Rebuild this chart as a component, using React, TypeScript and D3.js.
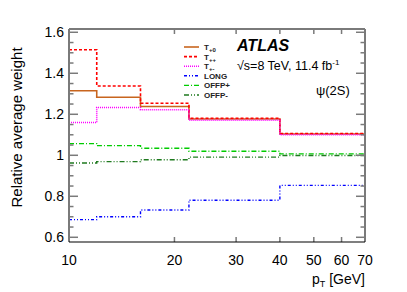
import React from "react";
import * as d3 from "d3";

// bin edges in pT [GeV]
const binEdges = [10, 12, 16, 22, 40, 70];

// relative average weight per bin
const tPlus0 = [1.315, 1.283, 1.238, 1.177, 1.104];
const tPlusPlus = [1.515, 1.338, 1.254, 1.181, 1.106];
const tPlusMinus = [1.16, 1.233, 1.222, 1.171, 1.1];
const longW = [0.686, 0.7, 0.733, 0.781, 0.853];
const offpPlus = [1.057, 1.047, 1.034, 1.02, 1.007];
const offpMinus = [0.962, 0.969, 0.978, 0.991, 0.999];

const xTicks = [10, 20, 30, 40, 50, 60, 70];
const yTicks = [0.6, 0.8, 1, 1.2, 1.4, 1.6];

const series = [
  { name: "T", sub: "+0", values: tPlus0, color: "#c8651e", dash: "", width: 1.6 },
  { name: "T", sub: "++", values: tPlusPlus, color: "#ff0000", dash: "3,2", width: 1.6 },
  { name: "T", sub: "+-", values: tPlusMinus, color: "#ff00ff", dash: "1,1", width: 1.6 },
  { name: "LONG", sub: "", values: longW, color: "#0000ff", dash: "3,2,1,2,1,2", width: 1.4 },
  { name: "OFFP+", sub: "", values: offpPlus, color: "#00cc00", dash: "5,2,1,2", width: 1.4 },
  { name: "OFFP-", sub: "", values: offpMinus, color: "#1f7a1f", dash: "5,2,1,2,1,2", width: 1.4 },
];

const App = () => {
  const W = 407;
  const H = 292;
  const left = 69, right = 365, top = 29, bottom = 242;

  const x = d3.scaleLog().domain([10, 70]).range([left, right]);
  const y = d3.scaleLinear().domain([0.577, 1.616]).range([bottom, top]);

  const line = d3
    .line<[number, number]>()
    .x((d) => x(d[0]))
    .y((d) => y(d[1]))
    .curve(d3.curveStepAfter);

  const stepPts = (vals: number[]): [number, number][] => {
    const pts: [number, number][] = vals.map((v, i) => [binEdges[i], v]);
    pts.push([binEdges[binEdges.length - 1], vals[vals.length - 1]]);
    return pts;
  };

  const minorY = d3.range(0.6, 1.6001, 0.05);
  const font = "Liberation Sans, Arial, Helvetica, sans-serif";
  const frameCol = "#7a7a7a";

  return (
    <svg
      width={W}
      height={H}
      style={{ position: "absolute", left: 0, top: 0, background: "#fff" }}
      fontFamily={font}
    >
      {/* histograms */}
      {series.map((s) => (
        <path
          key={s.name + s.sub}
          d={line(stepPts(s.values)) || ""}
          fill="none"
          stroke={s.color}
          strokeWidth={s.width}
          strokeDasharray={s.dash}
        />
      ))}

      {/* y ticks, left and right */}
      {minorY.map((v, i) => {
        const major = i % 4 === 0;
        const len = major ? 9 : 4.5;
        return (
          <g key={"yt" + i}>
            <line x1={left} x2={left + len} y1={y(v)} y2={y(v)} stroke={frameCol} strokeWidth={1.5} />
            <line x1={right} x2={right - len} y1={y(v)} y2={y(v)} stroke={frameCol} strokeWidth={1.5} />
          </g>
        );
      })}

      {/* x ticks, bottom and top */}
      {xTicks.slice(1, -1).map((v) => (
        <g key={"xt" + v}>
          <line x1={x(v)} x2={x(v)} y1={bottom} y2={bottom - 5} stroke={frameCol} strokeWidth={1.5} />
          <line x1={x(v)} x2={x(v)} y1={top} y2={top + 5} stroke={frameCol} strokeWidth={1.5} />
        </g>
      ))}

      {/* frame */}
      <line x1={left} x2={right} y1={top} y2={top} stroke={frameCol} strokeWidth={2} />
      <line x1={right} x2={right} y1={top} y2={bottom} stroke={frameCol} strokeWidth={2} />
      <line x1={left} x2={left} y1={top} y2={bottom} stroke={frameCol} strokeWidth={2} />
      <line x1={left} x2={right} y1={bottom} y2={bottom} stroke="#000" strokeWidth={1.2} />

      {/* tick labels */}
      {yTicks.map((v) => (
        <text key={"yl" + v} x={64} y={y(v) + 5} textAnchor="end" fontSize={14}>
          {d3.format("~g")(v)}
        </text>
      ))}
      {xTicks.map((v) => (
        <text key={"xl" + v} x={x(v)} y={265} textAnchor="middle" fontSize={14}>
          {v}
        </text>
      ))}

      {/* axis titles */}
      <text
        transform={`translate(22,${(top + bottom) / 2 - 8}) rotate(-90)`}
        textAnchor="middle"
        fontSize={15}
      >
        Relative average weight
      </text>
      <text x={right} y={284} textAnchor="end" fontSize={14}>
        p<tspan fontSize={9} dy={3}>T</tspan>
        <tspan dy={-3}> [GeV]</tspan>
      </text>

      {/* legend */}
      {series.map((s, i) => {
        const ly = 47 + i * 9.6;
        return (
          <g key={"lg" + i}>
            <line x1={184} x2={199} y1={ly} y2={ly} stroke={s.color} strokeWidth={s.width} strokeDasharray={s.dash} />
            <text x={204} y={ly + 3} fontSize={8} fontWeight="bold" fill="#222">
              {s.name}
              {s.sub && (
                <tspan fontSize={6} dy={2}>
                  {s.sub}
                </tspan>
              )}
            </text>
          </g>
        );
      })}

      {/* ATLAS labels */}
      <text x={237} y={51} fontSize={16} fontWeight="bold" fontStyle="italic">
        ATLAS
      </text>
      <text x={237} y={70} fontSize={12.5}>
        √s=8 TeV, 11.4 fb<tspan fontSize={8} dy={-5}>-1</tspan>
      </text>
      <text x={316} y={95} fontSize={13}>
        ψ(2S)
      </text>
    </svg>
  );
};

export default App;
